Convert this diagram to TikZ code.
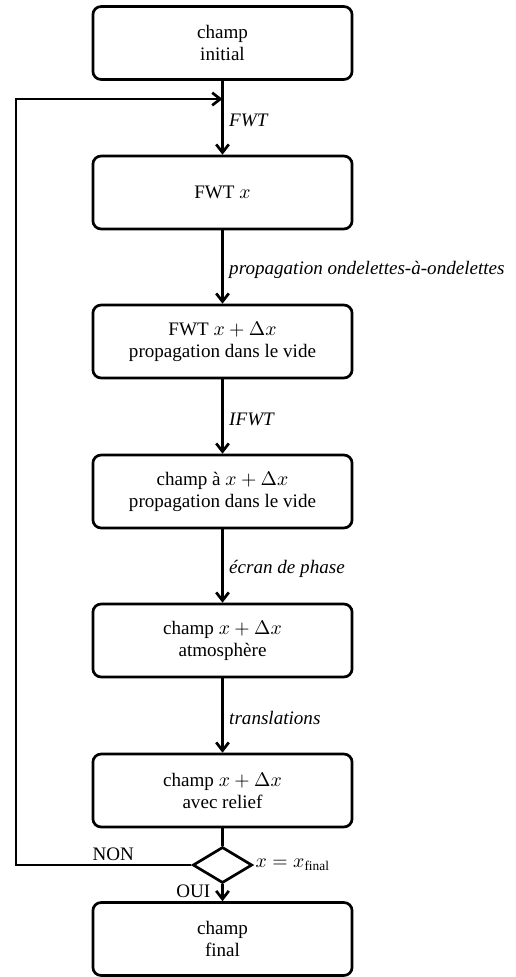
\documentclass[tikz,border=0pt]{standalone}
\usepackage{fontspec}
\setmainfont{Liberation Serif}
\usepackage{amsmath}
\usetikzlibrary{shapes.geometric,arrows.meta}
\begin{document}
\begin{tikzpicture}[x=0.5556pt,y=-0.5556pt,
  every node/.style={font=\fontsize{10.6pt}{12.2pt}\selectfont},
  box/.style={draw, line width=1.5pt, rounded corners=4.5pt, minimum width=144pt, minimum height=40.5pt, align=center, inner sep=2pt},
  arr/.style={line width=1.5pt, -{Straight Barb[length=4.5pt,width=7pt]}},
  plain/.style={line width=1.5pt},
  lbl/.style={font=\fontsize{10.6pt}{12.2pt}\selectfont\itshape, right, inner sep=3pt, yshift=-1.5pt},
  dec/.style={draw, diamond, line width=1.5pt, minimum width=33pt, minimum height=20pt, inner sep=0pt}]
\useasboundingbox (0,0) rectangle (516,977);
\node[box] (b1) at (222.5,43) {champ\\initial};
\node[box] (b2) at (222.5,192.5) {FWT $x$};
\node[box] (b3) at (222.5,341.5) {FWT $x+\Delta x$\\propagation dans le vide};
\node[box] (b4) at (222.5,491.5) {champ à $x+\Delta x$\\propagation dans le vide};
\node[box] (b5) at (222.5,640.5) {champ $x+\Delta x$\\atmosphère};
\node[box] (b6) at (222.5,790.5) {champ $x+\Delta x$\\avec relief};
\node[dec, label={[inner sep=1pt]right:{$x=x_{\text{final}}$}}] (d) at (222.5,865) {};
\node[box] (f) at (222.5,939) {champ\\final};
\coordinate (j) at (222.5,99);
\coordinate (l) at (16,99);
\draw[arr] (b1) -- node[lbl]{FWT} (b2);
\draw[arr] (b2) -- node[lbl]{propagation ondelettes-à-ondelettes} (b3);
\draw[arr] (b3) -- node[lbl]{IFWT} (b4);
\draw[arr] (b4) -- node[lbl]{écran de phase} (b5);
\draw[arr] (b5) -- node[lbl]{translations} (b6);
\draw[plain] (b6) -- (d);
\draw[arr] (d) -- node[left, inner sep=1pt, xshift=-5pt, yshift=1pt]{OUI} (f);
\draw[arr] (d.west) -| node[pos=0.223, above, inner sep=1.5pt]{NON} (l) -- (j);
\end{tikzpicture}
\end{document}
